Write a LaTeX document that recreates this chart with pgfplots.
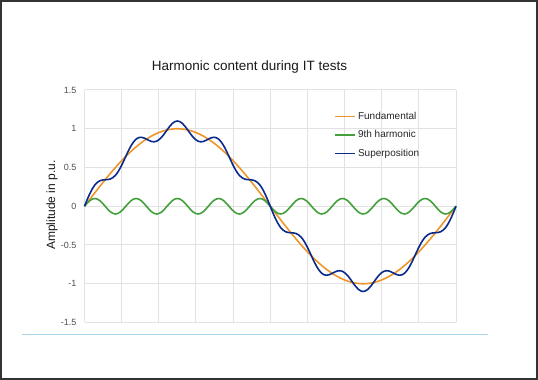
\documentclass[border=0pt]{standalone}
\usepackage{pgfplots}
\pgfplotsset{compat=1.18}
\usepackage{pgfplotstable}
\usepackage{fontspec}
\setmainfont{Liberation Sans}
\definecolor{cFund}{HTML}{EE962C}
\definecolor{cNinth}{HTML}{43A03D}
\definecolor{cSup}{HTML}{0B2B8C}
\definecolor{cGrid}{HTML}{E2E2E2}
\definecolor{cTick}{HTML}{505050}
\definecolor{cRule}{HTML}{A9D6EA}
\definecolor{cFrame}{HTML}{333333}
\pgfplotsset{legend image code/.code={\draw[#1, line width=1.3pt] (0pt,0pt) -- (20pt,0pt);}}
\pgfplotstableread{
x f h s
0 0 0 0
2.5 0.0436 0.0383 0.0819
5 0.0872 0.0707 0.1579
7.5 0.1305 0.0924 0.2229
10 0.1736 0.1 0.2736
12.5 0.2164 0.0924 0.3088
15 0.2588 0.0707 0.3295
17.5 0.3007 0.0383 0.3390
20 0.3420 0 0.3420
22.5 0.3827 -0.0383 0.3444
25 0.4226 -0.0707 0.3519
27.5 0.4618 -0.0924 0.3694
30 0.5 -0.1 0.4
32.5 0.5373 -0.0924 0.4449
35 0.5736 -0.0707 0.5029
37.5 0.6088 -0.0383 0.5705
40 0.6428 0 0.6428
42.5 0.6756 0.0383 0.7139
45 0.7071 0.0707 0.7778
47.5 0.7373 0.0924 0.8297
50 0.7660 0.1 0.8660
52.5 0.7934 0.0924 0.8858
55 0.8192 0.0707 0.8899
57.5 0.8434 0.0383 0.8817
60 0.8660 0 0.8660
62.5 0.8870 -0.0383 0.8487
65 0.9063 -0.0707 0.8356
67.5 0.9239 -0.0924 0.8315
70 0.9397 -0.1 0.8397
72.5 0.9537 -0.0924 0.8613
75 0.9659 -0.0707 0.8952
77.5 0.9763 -0.0383 0.9380
80 0.9848 0 0.9848
82.5 0.9914 0.0383 1.0297
85 0.9962 0.0707 1.0669
87.5 0.9990 0.0924 1.0914
90 1 0.1 1.1
92.5 0.9990 0.0924 1.0914
95 0.9962 0.0707 1.0669
97.5 0.9914 0.0383 1.0297
100 0.9848 0 0.9848
102.5 0.9763 -0.0383 0.9380
105 0.9659 -0.0707 0.8952
107.5 0.9537 -0.0924 0.8613
110 0.9397 -0.1 0.8397
112.5 0.9239 -0.0924 0.8315
115 0.9063 -0.0707 0.8356
117.5 0.8870 -0.0383 0.8487
120 0.8660 0 0.8660
122.5 0.8434 0.0383 0.8817
125 0.8192 0.0707 0.8899
127.5 0.7934 0.0924 0.8858
130 0.7660 0.1 0.8660
132.5 0.7373 0.0924 0.8297
135 0.7071 0.0707 0.7778
137.5 0.6756 0.0383 0.7139
140 0.6428 0 0.6428
142.5 0.6088 -0.0383 0.5705
145 0.5736 -0.0707 0.5029
147.5 0.5373 -0.0924 0.4449
150 0.5 -0.1 0.4
152.5 0.4618 -0.0924 0.3694
155 0.4226 -0.0707 0.3519
157.5 0.3827 -0.0383 0.3444
160 0.3420 0 0.3420
162.5 0.3007 0.0383 0.3390
165 0.2588 0.0707 0.3295
167.5 0.2164 0.0924 0.3088
170 0.1736 0.1 0.2736
172.5 0.1305 0.0924 0.2229
175 0.0872 0.0707 0.1579
177.5 0.0436 0.0383 0.0819
180 0 0 0
182.5 -0.0436 -0.0383 -0.0819
185 -0.0872 -0.0707 -0.1579
187.5 -0.1305 -0.0924 -0.2229
190 -0.1736 -0.1 -0.2736
192.5 -0.2164 -0.0924 -0.3088
195 -0.2588 -0.0707 -0.3295
197.5 -0.3007 -0.0383 -0.3390
200 -0.3420 0 -0.3420
202.5 -0.3827 0.0383 -0.3444
205 -0.4226 0.0707 -0.3519
207.5 -0.4618 0.0924 -0.3694
210 -0.5 0.1 -0.4
212.5 -0.5373 0.0924 -0.4449
215 -0.5736 0.0707 -0.5029
217.5 -0.6088 0.0383 -0.5705
220 -0.6428 0 -0.6428
222.5 -0.6756 -0.0383 -0.7139
225 -0.7071 -0.0707 -0.7778
227.5 -0.7373 -0.0924 -0.8297
230 -0.7660 -0.1 -0.8660
232.5 -0.7934 -0.0924 -0.8858
235 -0.8192 -0.0707 -0.8899
237.5 -0.8434 -0.0383 -0.8817
240 -0.8660 0 -0.8660
242.5 -0.8870 0.0383 -0.8487
245 -0.9063 0.0707 -0.8356
247.5 -0.9239 0.0924 -0.8315
250 -0.9397 0.1 -0.8397
252.5 -0.9537 0.0924 -0.8613
255 -0.9659 0.0707 -0.8952
257.5 -0.9763 0.0383 -0.9380
260 -0.9848 0 -0.9848
262.5 -0.9914 -0.0383 -1.0297
265 -0.9962 -0.0707 -1.0669
267.5 -0.9990 -0.0924 -1.0914
270 -1 -0.1 -1.1
272.5 -0.9990 -0.0924 -1.0914
275 -0.9962 -0.0707 -1.0669
277.5 -0.9914 -0.0383 -1.0297
280 -0.9848 0 -0.9848
282.5 -0.9763 0.0383 -0.9380
285 -0.9659 0.0707 -0.8952
287.5 -0.9537 0.0924 -0.8613
290 -0.9397 0.1 -0.8397
292.5 -0.9239 0.0924 -0.8315
295 -0.9063 0.0707 -0.8356
297.5 -0.8870 0.0383 -0.8487
300 -0.8660 0 -0.8660
302.5 -0.8434 -0.0383 -0.8817
305 -0.8192 -0.0707 -0.8899
307.5 -0.7934 -0.0924 -0.8858
310 -0.7660 -0.1 -0.8660
312.5 -0.7373 -0.0924 -0.8297
315 -0.7071 -0.0707 -0.7778
317.5 -0.6756 -0.0383 -0.7139
320 -0.6428 0 -0.6428
322.5 -0.6088 0.0383 -0.5705
325 -0.5736 0.0707 -0.5029
327.5 -0.5373 0.0924 -0.4449
330 -0.5 0.1 -0.4
332.5 -0.4618 0.0924 -0.3694
335 -0.4226 0.0707 -0.3519
337.5 -0.3827 0.0383 -0.3444
340 -0.3420 0 -0.3420
342.5 -0.3007 -0.0383 -0.3390
345 -0.2588 -0.0707 -0.3295
347.5 -0.2164 -0.0924 -0.3088
350 -0.1736 -0.1 -0.2736
352.5 -0.1305 -0.0924 -0.2229
355 -0.0872 -0.0707 -0.1579
357.5 -0.0436 -0.0383 -0.0819
360 0 0 0
}\wavedata
\begin{document}
\begin{tikzpicture}
\path[use as bounding box] (0,0) rectangle (538pt,380pt);
\fill[white] (0,0) rectangle (538pt,380pt);
\draw[cRule, line width=1pt] (22pt,45pt) -- (488pt,45pt);
\begin{axis}[
  at={(84.5pt,57.5pt)}, anchor=south west,
  scale only axis, width=371.5pt, height=232.5pt,
  xmin=0, xmax=360, ymin=-1.5, ymax=1.5,
  xtick={0,36,...,360}, xticklabels={},
  ytick={-1.5,-1,-0.5,0,0.5,1,1.5},
  yticklabels={-1.5,-1,-0.5,0,0.5,1,1.5},
  grid=major,
  major grid style={cGrid, line width=1pt},
  axis line style={draw=none},
  major tick length=0pt,
  yticklabel style={font=\fontsize{9}{10}\selectfont, text=cTick, inner sep=0pt, xshift=-8pt},
  legend style={at={(0.673,0.915)}, anchor=north west, draw=none, fill=none,
    font=\fontsize{10}{12}\selectfont, text=black!85, row sep=6pt, inner sep=0pt},
  legend cell align=left,
  clip=false,
]
\addplot[cFund, line width=1.6pt, smooth] table[x=x, y=f] {\wavedata};
\addlegendentry{Fundamental}
\addplot[cNinth, line width=1.6pt, smooth] table[x=x, y=h] {\wavedata};
\addlegendentry{9th harmonic}
\addplot[cSup, line width=1.6pt, smooth] table[x=x, y=s] {\wavedata};
\addlegendentry{Superposition}
\end{axis}
\node[font=\fontsize{13.5}{16}\selectfont, text=black!90] at (249.5pt,312.5pt) {Harmonic content during IT tests};
\node[font=\fontsize{12}{14}\selectfont, rotate=90, text=black!90] at (52pt,175pt) {Amplitude in p.u.};
\draw[cFrame, line width=2pt] (1pt,1pt) rectangle (537pt,379pt);
\end{tikzpicture}
\end{document}
